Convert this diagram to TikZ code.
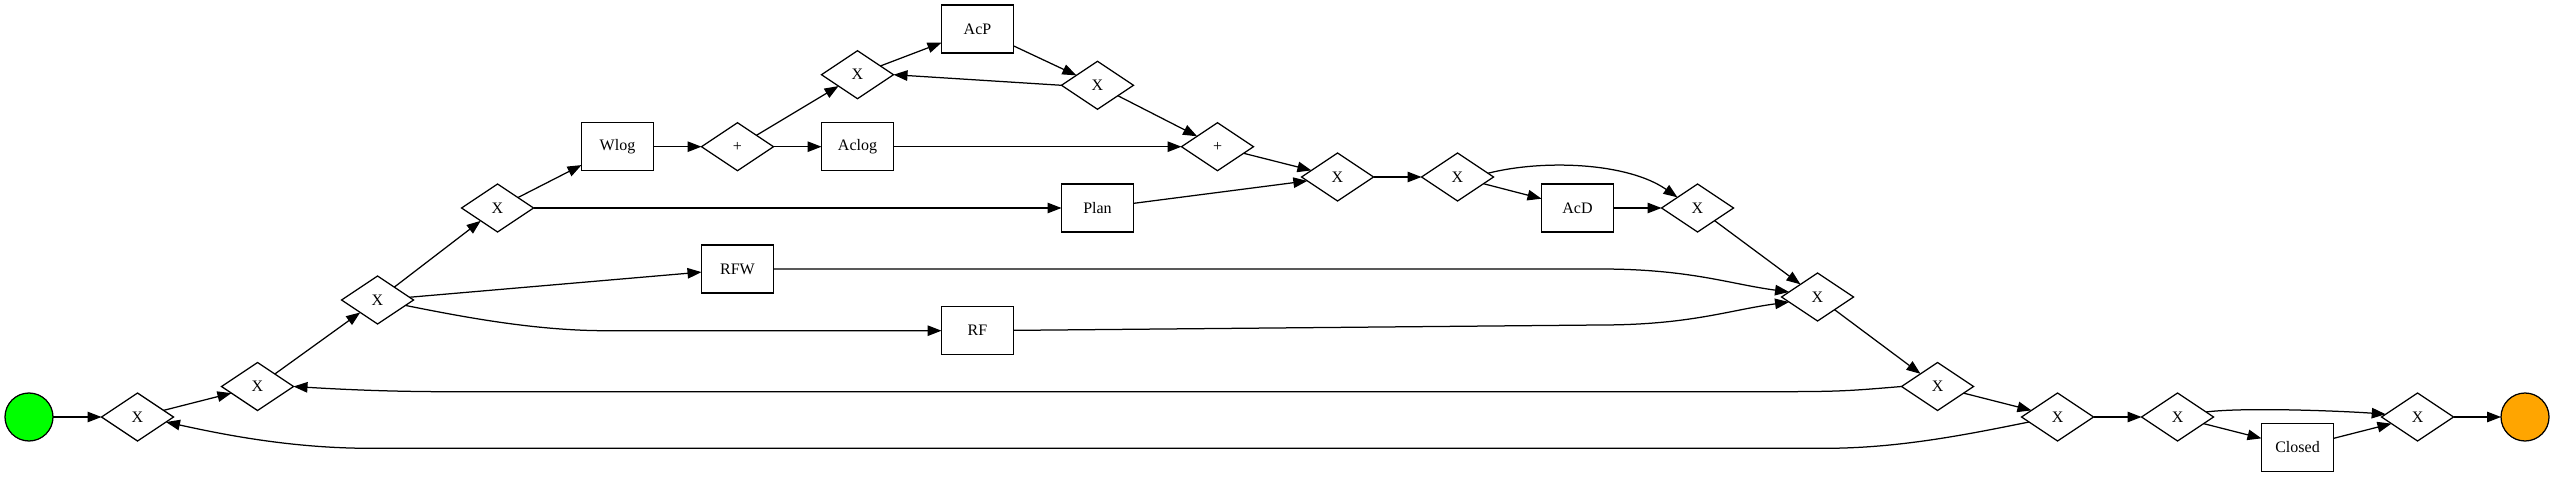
\documentclass[tikz,border=0pt]{standalone}
\usepackage{fontspec}
\setmainfont{Liberation Serif}
\usetikzlibrary{shapes.geometric,arrows.meta}
\definecolor{endorange}{HTML}{FFA500}
\tikzset{>={Triangle[length=14pt,width=10.5pt]}}
\tikzset{
  gate/.style={draw,diamond,minimum width=72pt,minimum height=48pt,inner sep=0pt,outer sep=0pt},
  task/.style={draw,rectangle,minimum width=72pt,minimum height=48pt,inner sep=0pt,outer sep=0pt},
  event/.style={draw,circle,minimum size=48pt,inner sep=0pt,outer sep=0pt}
}

\begin{document}
\begin{tikzpicture}[x=1pt,y=1pt,line width=1.25pt,font=\fontsize{16}{19}\selectfont]
      \useasboundingbox (0,0) rectangle (2555,477);

      \node[event,fill=green] (start) at (29,60) {};
      \node[gate] (g1) at (137.5,60) {X};
      \node[gate] (g2) at (257.5,90.5) {X};
      \node[gate] (g3) at (377.5,177) {X};
      \node[gate] (g4) at (497.5,269) {X};
      \node[task] (wlog) at (617.5,330.3) {Wlog};
      \node[gate] (par1) at (737.5,330.3) {+};
      \node[task] (rfw) at (737.5,208) {RFW};
      \node[gate] (g5) at (857.5,402.3) {X};
      \node[task] (aclog) at (857.5,330.3) {Aclog};
      \node[task] (acp) at (977.5,448) {AcP};
      \node[task] (rf) at (977.5,146.3) {RF};
      \node[gate] (g6) at (1097.5,391.7) {X};
      \node[task] (plan) at (1097.5,269) {Plan};
      \node[gate] (par2) at (1217.5,330.3) {+};
      \node[gate] (g7) at (1337.5,300) {X};
      \node[gate] (g8) at (1457.5,300) {X};
      \node[task] (acd) at (1577.5,269) {AcD};
      \node[gate] (g9) at (1697.5,269) {X};
      \node[gate] (g10) at (1817.5,180) {X};
      \node[gate] (g11) at (1937.5,90.5) {X};
      \node[gate] (g12) at (2057.5,60) {X};
      \node[gate] (g13) at (2177.5,60) {X};
      \node[task] (closed) at (2297.5,29.5) {Closed};
      \node[gate] (g14) at (2417.5,60) {X};
      \node[event,fill=endorange] (end) at (2525,60) {};

      % bends of the long edges
      \coordinate (rfbend) at (606,146.3);
      \coordinate (rfwbend) at (1600,208);
      \coordinate (rfbend2) at (1600,152);
      \coordinate (loopr) at (1750,85.3);
      \coordinate (loopl) at (450,85.3);
      \coordinate (backr) at (1825,28.7);
      \coordinate (backl) at (370,28.7);

      \draw[->] (start) -- (g1);
      \draw[->] (g1) -- (g2);
      \draw[->] (g2) -- (g3);
      \draw[->] (g3) -- (g4);
      \draw[->] (g3) -- (rfw);
      \draw[->] (g3.-11) .. controls +(60,-12) and +(-70,0) .. (rfbend) -- (rf);
      \draw[->] (g4) -- (wlog);
      \draw[->] (g4) -- (plan);
      \draw[->] (wlog) -- (par1);
      \draw[->] (par1) -- (g5);
      \draw[->] (par1) -- (aclog);
      \draw[->] (g5) -- (acp);
      \draw[->] (acp) -- (g6);
      \draw[->] (g6.west) -- (g5.east);
      \draw[->] (g6) -- (par2);
      \draw[->] (aclog) -- (par2);
      \draw[->] (par2) -- (g7);
      \draw[->] (plan) -- (g7);
      \draw[->] (g7) -- (g8);
      \draw[->] (g8) -- (acd);
      \draw[->] (g8.7) .. controls +(55,14) and +(-50,35) .. (g9.152);
      \draw[->] (acd) -- (g9);
      \draw[->] (g9) -- (g10);
      \draw[->] (rfw) -- (rfwbend) .. controls +(90,0) and +(-60,8) .. (g10.170);
      \draw[->] (rf) -- (rfbend2) .. controls +(90,0) and +(-60,-8) .. (g10.190);
      \draw[->] (g10) -- (g11);
      \draw[->] (g11.west) .. controls +(-60,-5) and +(90,0) .. (loopr) -- (loopl)
            .. controls +(-60,0) and +(50,-3) .. (g2.east);
      \draw[->] (g11) -- (g12);
      \draw[->] (g12) -- (g13);
      \draw[->] (g12.190) .. controls +(-60,-12) and +(75,0) .. (backr) -- (backl)
            .. controls +(-80,0) and +(55,-12) .. (g1.-10);
      \draw[->] (g13) -- (closed);
      \draw[->] (g13.10) .. controls +(40,5) and +(-40,3) .. (g14.175);
      \draw[->] (closed) -- (g14);
      \draw[->] (g14) -- (end);
    \end{tikzpicture}
\end{document}
